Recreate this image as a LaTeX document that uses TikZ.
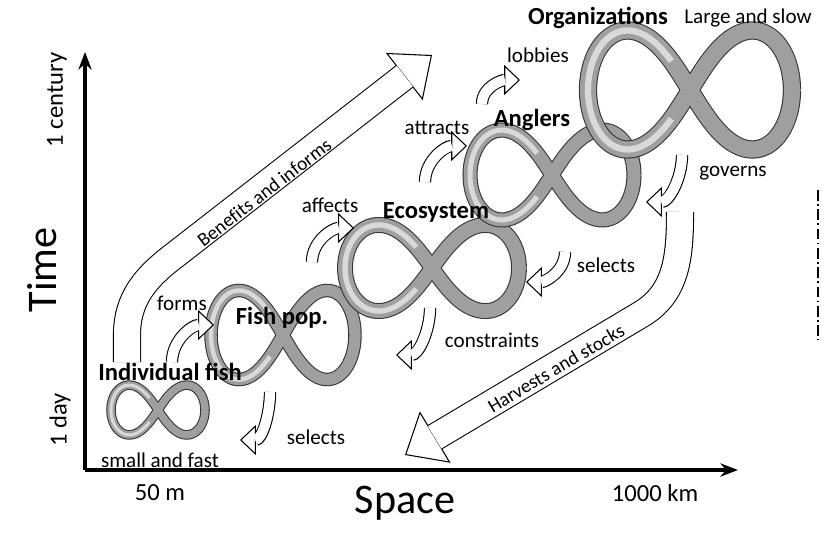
\documentclass[tikz,border=0pt]{standalone}
\usepackage{fontspec}
\setmainfont{Carlito}
\usetikzlibrary{arrows.meta,decorations.text}

\tikzset{
  title/.style={font=\bfseries\fontsize{14}{16}\selectfont},
  lbl/.style={font=\fontsize{12}{14}\selectfont},
  axlbl/.style={font=\fontsize{14}{16}\selectfont},
  small arrow/.style={line width=7pt, black,
    -{Triangle[length=9pt, width=17pt, line width=0.6pt, fill=white]}},
  small inner/.style={line width=5.8pt, white, shorten >=8.6pt},
  big arrow/.style={line width=16pt, black,
    -{Triangle[length=20pt, width=34pt, line width=0.6pt, fill=white]}},
  big inner/.style={line width=14.8pt, white, shorten >=19.6pt},
}

% ribbon loop: centre, half width, yscale
\newcommand{\loopband}[3]{%
  \begin{scope}[shift={#1}, yscale=#3]
    \draw[line width=#2*0.09pt+1.2pt, black!80, domain=0:360, samples=100, smooth, variable=\t]
      plot ({#2*cos(\t)/(1+sin(\t)^2)}, {#2*sin(\t)*cos(\t)/(1+sin(\t)^2)});
    \draw[line width=#2*0.09pt, gray!75, domain=0:360, samples=100, smooth, variable=\t]
      plot ({#2*cos(\t)/(1+sin(\t)^2)}, {#2*sin(\t)*cos(\t)/(1+sin(\t)^2)});
    \draw[line width=#2*0.035pt, gray!30, domain=110:250, samples=40, smooth, variable=\t]
      plot ({#2*cos(\t)/(1+sin(\t)^2)}, {#2*sin(\t)*cos(\t)/(1+sin(\t)^2)});
  \end{scope}}

\begin{document}
\begin{tikzpicture}[x=0.02cm, y=-0.02cm]
  \useasboundingbox (0,0) rectangle (837,533);

  % axes
  \draw[line width=2pt, -{Stealth[length=10pt]}] (85,470) -- (85,52);
  \draw[line width=2pt, -{Stealth[length=10pt]}] (85,470) -- (738,470);
  \draw[line width=1pt, dash pattern=on 6pt off 2pt on 1pt off 2pt] (818,190) -- (818,340);

  \node[rotate=90, font=\fontsize{24}{26}\selectfont] (time) at (42,270) {Time};
  \node[rotate=90, axlbl] (century) at (57,100) {1 century};
  \node[rotate=90, axlbl] (day) at (60,420) {1 day};
  \node[font=\fontsize{24}{26}\selectfont] (space) at (405,503) {Space};
  \node[axlbl] (near) at (160,493) {50 m};
  \node[axlbl] (far) at (655,493) {1000 km};

  % big arrows
  \draw[big arrow] (127,362) -- (127,335) to[out=90, in=217] (175,255) -- (432,55);
  \draw[big inner] (127,362) -- (127,335) to[out=90, in=217] (175,255) -- (432,55);
  \draw[big arrow] (680,212) to[out=-90, in=30] (640,315) -- (405,455);
  \draw[big inner] (680,212) to[out=-90, in=30] (640,315) -- (405,455);
  \path[decorate, decoration={text along path, text align=center,
      text={|\fontsize{11}{13}\selectfont|Benefits and informs}}] (190,258) -- (347,137);
  \path[decorate, decoration={text along path, text align=center,
      text={|\fontsize{11}{13}\selectfont|Harvests and stocks}}] (477,423) -- (642,325);

  % loops
  \loopband{(158,410)}{47}{1.5}
  \loopband{(283,335)}{72}{1.75}
  \loopband{(432,268)}{87}{1.4}
  \loopband{(552,175)}{82}{1.55}
  \loopband{(690,90)}{102}{1.65}

  \node[title] (fish) at (170,372) {Individual fish};
  \node[title] (pop) at (282,318) {Fish pop.};
  \node[title] (eco) at (436,212) {Ecosystem};
  \node[title] (anglers) at (532,120) {Anglers};
  \node[title] (orgs) at (598,18) {Organizations};
  \node[lbl] (slow) at (748,18) {Large and slow};
  \node[lbl] (fast) at (160,460) {small and fast};

  % small arrows
  \foreach \ax/\ay/\bx/\by/\o/\i in {172/362/214/325/90/180, 312/262/354/228/90/180,
      425/182/467/146/90/180, 482/104/520/80/90/180, 270/392/240/440/-90/0,
      430/308/396/355/-90/0, 565/252/526/282/-90/0, 682/155/646/202/-90/0} {
    \draw[small arrow] (\ax,\ay) to[out=\o, in=\i] (\bx,\by);
    \draw[small inner] (\ax,\ay) to[out=\o, in=\i] (\bx,\by);
  }
  \node[lbl] (forms) at (182,303) {forms};
  \node[lbl] (affects) at (330,205) {affects};
  \node[lbl] (attracts) at (437,128) {attracts};
  \node[lbl] (lobbies) at (538,55) {lobbies};
  \node[lbl] (sel1) at (316,437) {selects};
  \node[lbl] (constr) at (492,340) {constraints};
  \node[lbl] (sel2) at (606,265) {selects};
  \node[lbl] (governs) at (733,173) {governs};
\end{tikzpicture}
\end{document}
